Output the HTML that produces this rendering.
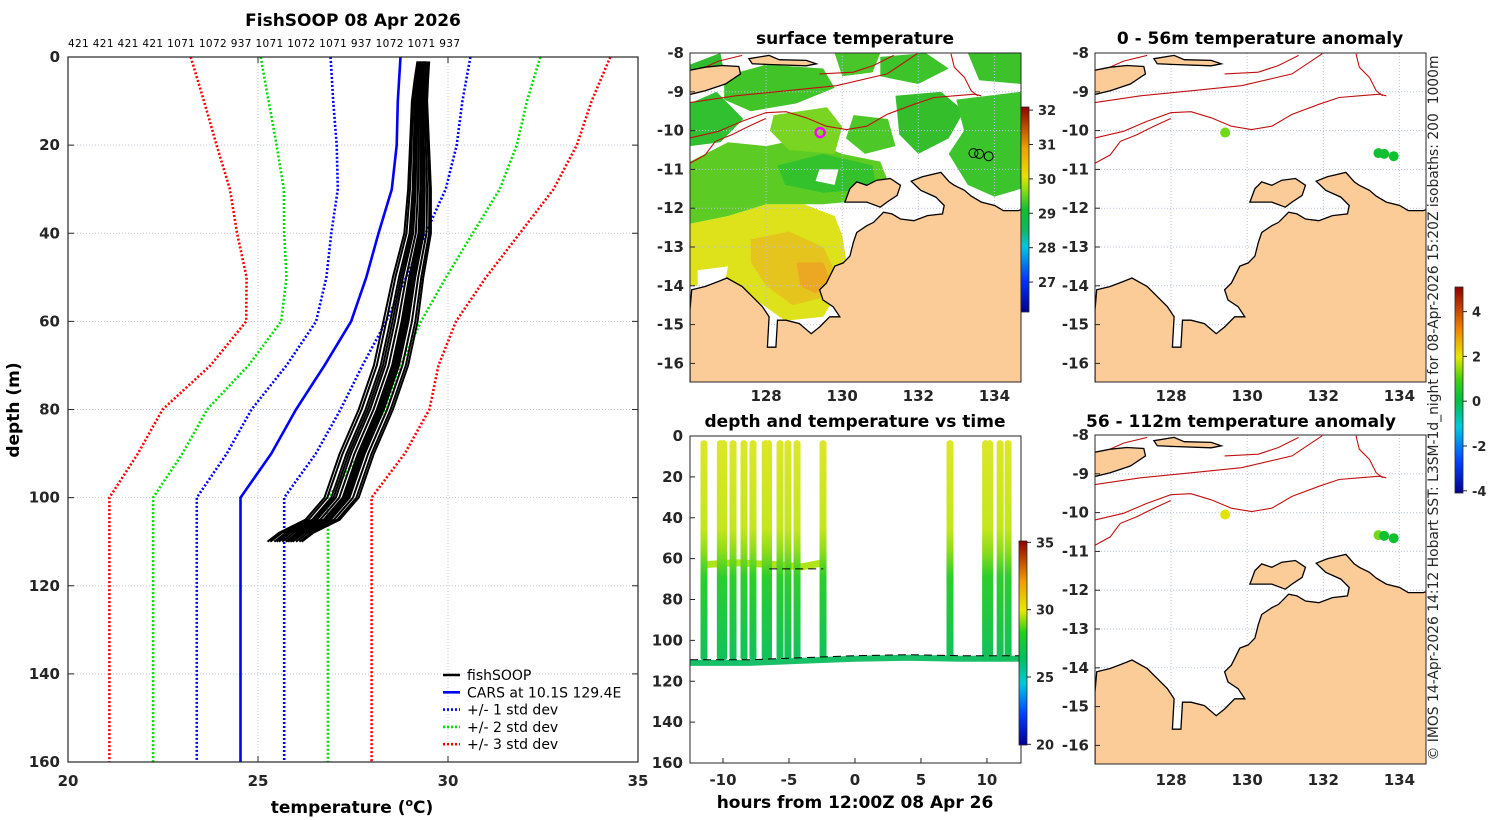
<!DOCTYPE html>
<html><head><meta charset="utf-8">
<style>
html,body{margin:0;padding:0;background:#fff;}
svg{display:block;font-family:"DejaVu Sans","Liberation Sans",sans-serif;}
.tk{font-size:15px;font-weight:bold;fill:#262626;}
.tt{font-size:17px;font-weight:bold;fill:#000;}
</style></head>
<body>
<svg id="fig" width="1500" height="820" viewBox="0 0 1500 820" xmlns="http://www.w3.org/2000/svg">
<defs>
<clipPath id="cp0"><rect x="68" y="57" width="570" height="705"/></clipPath>
<clipPath id="cp1"><rect x="690" y="53" width="331" height="329"/></clipPath>
<clipPath id="cp2"><rect x="1095" y="53" width="331" height="329"/></clipPath>
<clipPath id="cp3"><rect x="1095" y="435" width="331" height="329"/></clipPath>
<clipPath id="cp4"><rect x="690" y="436" width="331" height="327"/></clipPath>
<linearGradient id="gSst" x1="0" y1="1" x2="0" y2="0">
<stop offset="0" stop-color="#00008f"/><stop offset="0.15" stop-color="#0030ff"/><stop offset="0.32" stop-color="#00c8e0"/><stop offset="0.4" stop-color="#10b860"/><stop offset="0.5" stop-color="#10c030"/><stop offset="0.6" stop-color="#90e010"/><stop offset="0.66" stop-color="#e8e000"/><stop offset="0.8" stop-color="#f0a000"/><stop offset="1" stop-color="#900000"/>
</linearGradient>
<linearGradient id="gTs" x1="0" y1="1" x2="0" y2="0">
<stop offset="0" stop-color="#00008f"/><stop offset="0.15" stop-color="#0040ff"/><stop offset="0.3" stop-color="#00c8e0"/><stop offset="0.42" stop-color="#00c060"/><stop offset="0.55" stop-color="#20d020"/><stop offset="0.66" stop-color="#e8e800"/><stop offset="0.8" stop-color="#f0a000"/><stop offset="1" stop-color="#900000"/>
</linearGradient>
<linearGradient id="gAn" x1="0" y1="1" x2="0" y2="0">
<stop offset="0" stop-color="#00008f"/><stop offset="0.15" stop-color="#0040ff"/><stop offset="0.32" stop-color="#00c8e0"/><stop offset="0.45" stop-color="#00c040"/><stop offset="0.55" stop-color="#40d010"/><stop offset="0.66" stop-color="#e8e800"/><stop offset="0.8" stop-color="#f08000"/><stop offset="1" stop-color="#900000"/>
</linearGradient>
<linearGradient id="gCast" x1="0" y1="0" x2="0" y2="1">
<stop offset="0" stop-color="#dde62a"/><stop offset="0.4" stop-color="#c4e620"/><stop offset="0.5" stop-color="#90dc1c"/><stop offset="0.62" stop-color="#2cce2c"/><stop offset="1" stop-color="#12c05c"/>
</linearGradient>
</defs>
</svg>
<script>
// ---------- data ----------
const carsDepth=[0,10,20,30,40,50,60,70,80,90,100,160];
const carsMean=[28.75,28.68,28.65,28.52,28.17,27.85,27.45,26.75,26.0,25.35,24.54,24.54];
const carsStd=[1.84,1.7,1.58,1.42,1.24,1.05,0.92,1.0,1.17,1.17,1.15,1.15];
const obsDepth=[1,5,10,20,30,40,50,60,70,80,90,100,105,108,110];
const obsTemp=[29.35,29.3,29.25,29.25,29.25,29.2,28.95,28.75,28.5,28.1,27.6,27.2,26.7,26.0,25.7];
const castOffset=[-0.25,-0.18,-0.1,-0.04,0.02,0.08,0.14,0.2,0.26,-0.3,0.3,-0.14,0.05,0.11];
const castIds=["421","421","421","421","1071","1072","937","1071","1072","1071","937","1072","1071","937"];
const depthTicks=[0,20,40,60,80,100,120,140,160];
const tempTicks=[20,25,30,35];
const castHours=[-11.44,-10.2,-9.95,-9.24,-8.41,-7.73,-6.8,-6.55,-5.68,-5.08,-4.39,-2.42,7.2,9.9,10.2,11.0,11.6];
const castMaxDepth=[110,110,110,110,110,110,110,110,110,110,110,110,110,110,110,110,110];
const bandHours=[-11.6,-9,-6,-4,-2.4];
const bandDepth=[63,62,63,64,62];
const trackHours=[-12.5,-8,-4,0,4,8,12.6];
const trackDepth=[111,111,110,109,108.5,109,109];
const hourTicks=[-10,-5,0,5,10];
const lonTicks=[128,130,132,134];
const latTicks=[-8,-9,-10,-11,-12,-13,-14,-15,-16];
const sstTicks=[27,28,29,30,31,32];
const tsTicks=[20,25,30,35];
const anTicks=[-4,-2,0,2,4];
const fishLon=[129.42,133.45,133.6,133.85];
const fishLat=[-10.05,-10.58,-10.6,-10.66];
const anom0=[1.0,0.4,0.3,0.2];
const anom1=[2.2,0.5,0.4,0.3];

const S=document.getElementById('fig');
const NS='http://www.w3.org/2000/svg';
function mk(tag,attrs,parent){const e=document.createElementNS(NS,tag);for(const k in attrs)e.setAttribute(k,attrs[k]);(parent||S).appendChild(e);return e;}
function txt(x,y,s,cls,anchor,parent,extra){const t=mk('text',Object.assign({x:x,y:y,'text-anchor':anchor||'middle'},extra||{}),parent);if(cls)t.setAttribute('class',cls);t.textContent=s;return t;}

// ---------- profile panel ----------
const P={x:68,y:57,w:570,h:705};
const tx=t=>P.x+(t-20)/15*P.w;
const dy=d=>P.y+d/160*P.h;
const gP=mk('g',{});


depthTicks.forEach(d=>{if(d>0&&d<160){const l=mk('line',{x1:P.x,x2:P.x+P.w,y1:dy(d),y2:dy(d),stroke:'#c0c4dc','stroke-width':1,'stroke-dasharray':'1,2'},gP);}});
tempTicks.forEach(t=>{if(t>20&&t<35){const l=mk('line',{x1:tx(t),x2:tx(t),y1:P.y,y2:P.y+P.h,stroke:'#c0c4dc','stroke-width':1,'stroke-dasharray':'1,2'},gP);}});
const gPc=mk('g',{'clip-path':'url(#cp0)'},gP);
const stdCols=['#0000ff','#00dd00','#ff0000'];
[3,2,1].forEach(k=>{
  [-1,1].forEach(s=>{
    const pts=carsDepth.map((d,i)=>tx(carsMean[i]+s*k*carsStd[i]).toFixed(1)+','+dy(d).toFixed(1)).join(' ');
    const l=mk('polyline',{points:pts,fill:'none',stroke:stdCols[k-1],'stroke-width':2.6,'stroke-dasharray':'2,2'},gPc);
    
    
  });
});
{const pts=carsDepth.map((d,i)=>tx(carsMean[i]).toFixed(1)+','+dy(d).toFixed(1)).join(' ');
const l=mk('polyline',{points:pts,fill:'none',stroke:'#0000ff','stroke-width':2.6},gPc);

}
castOffset.forEach((o,c)=>{
  const pts=obsDepth.map((d,i)=>{const f=Math.min(1,d/60);return tx(obsTemp[i]+o*(0.5+f)).toFixed(1)+','+dy(d).toFixed(1);}).join(' ');
  const l=mk('polyline',{points:pts,fill:'none',stroke:'#000','stroke-width':2,'stroke-linejoin':'round'},gPc);
  
  
});
{const r=mk('rect',{x:P.x,y:P.y,width:P.w,height:P.h,fill:'none',stroke:'#262626','stroke-width':1.2},gP);}
depthTicks.forEach(d=>{mk('line',{x1:P.x,x2:P.x+6,y1:dy(d),y2:dy(d),stroke:'#262626'},gP);mk('line',{x1:P.x+P.w-6,x2:P.x+P.w,y1:dy(d),y2:dy(d),stroke:'#262626'},gP);
  const t=txt(P.x-8,dy(d)+5,String(d),'tk','end',gP);});
tempTicks.forEach(v=>{mk('line',{x1:tx(v),x2:tx(v),y1:P.y,y2:P.y+6,stroke:'#262626'},gP);mk('line',{x1:tx(v),x2:tx(v),y1:P.y+P.h-6,y2:P.y+P.h,stroke:'#262626'},gP);
  const t=txt(tx(v),P.y+P.h+24,String(v),'tk','middle',gP);});
{const t=txt(353,26,'FishSOOP 08 Apr 2026','tt','middle',gP);}
{const t=txt(68,47,castIds.join(' '),null,'start',gP,{'font-size':'10.5px',fill:'#000',textLength:392});}
{const t=mk('text',{x:352,y:813,'text-anchor':'middle',class:'tt',fill:'#262626'},gP);t.innerHTML='temperature (<tspan dy="-7" font-size="11">o</tspan><tspan dy="7">C)</tspan>';}
{const t=txt(19,410,'depth (m)','tt','middle',gP,{transform:'rotate(-90 19 410)'});}
// legend
const legItems=[['fishSOOP','#000',''],['CARS at 10.1S 129.4E','#0000ff',''],['+/- 1 std dev','#0000ff','2,2'],['+/- 2 std dev','#00dd00','2,2'],['+/- 3 std dev','#ff0000','2,2']];
const gL=mk('g',{},gP);


legItems.forEach((it,i)=>{const y=675+i*17.3;
  const l=mk('line',{x1:443,x2:460,y1:y,y2:y,stroke:it[1],'stroke-width':2.6,'stroke-dasharray':it[2]||'none'},gL);
  
  const t=txt(467,y+5,it[0],null,'start',gL,{'font-size':'14px',fill:'#000'});});

// ---------- maps ----------
const coast=[[15,800],[20,740],[60,730],[100,715],[125,705],[170,730],[200,760],[230,790],[250,820],[245,910],[270,910],[275,830],[300,830],[340,840],[375,870],[400,850],[430,820],[460,820],[440,790],[410,770],[400,740],[420,720],[445,670],[470,660],[490,640],[500,600],[510,570],[540,550],[560,540],[580,520],[590,510],[615,515],[640,530],[680,535],[720,520],[765,515],[770,490],[745,465],[700,445],[672,418],[705,405],[760,392],[785,420],[800,430],[830,445],[850,462],[880,480],[920,490],[945,505],[990,505],[1005,500],[1005,1030],[15,1030]];
const island=[[475,480],[490,440],[510,420],[540,430],[570,415],[610,410],[640,430],[630,460],[600,480],[580,495],[540,480],[500,480]];
const timor=[[10,90],[60,80],[110,75],[160,78],[165,100],[120,130],[60,150],[10,162]];
const islet=[[190,55],[250,45],[280,58],[360,60],[390,70],[360,76],[250,72],[200,70]];
const iso=[
 [[15,290],[100,270],[170,240],[240,215],[300,212],[360,230],[420,255],[480,265],[540,255],[600,220],[680,190],[740,170],[800,165],[860,160],[880,165]],
 [[15,365],[60,340],[90,300],[140,280],[190,255],[240,232]],
 [[15,185],[150,165],[300,150],[450,135],[600,100],[690,40]],
 [[15,100],[100,62],[170,45]],
 [[790,40],[800,80],[830,110],[850,150],[870,165]],
 [[400,100],[500,95],[560,75],[620,45]]];
const zl=p=>[126+(p[0]-15)/113,-8-(p[1]-38)/115];
function mapFns(b){return {X:lon=>b.x+(lon-126)*38.05,Y:lat=>b.y+(-8-lat)*38.8};}
function poly(arr,f){return arr.map(p=>{const q=zl(p);return f.X(q[0]).toFixed(1)+','+f.Y(q[1]).toFixed(1);}).join(' ');}
const sstPatches=[
 {c:'#dde21a',p:[[126,-12.4],[127,-12.2],[128,-11.9],[129,-11.9],[129.8,-12.2],[130.0,-12.7],[130.1,-13.3],[129.8,-14.3],[129.5,-14.8],[128.5,-14.9],[127.5,-14.2],[126.5,-14.0],[126,-14.0]]},
 {c:'#e6c41e',p:[[127.6,-12.8],[128.6,-12.6],[129.5,-13.0],[129.8,-13.6],[129.5,-14.3],[128.7,-14.5],[128.0,-14.0],[127.6,-13.4]]},
 {c:'#eca822',p:[[128.8,-13.4],[129.5,-13.4],[129.7,-13.9],[129.3,-14.2],[128.9,-14.0]]},
 {c:'#5ccc24',p:[[126,-10.8],[127,-10.3],[128,-10.4],[129,-10.2],[130,-10.6],[131,-10.8],[131.2,-11.3],[130.6,-11.8],[129.5,-11.9],[128,-11.9],[127,-12.2],[126,-12.4]]},
 {c:'#34c22c',p:[[128.3,-10.9],[129.5,-10.6],[130.8,-10.9],[130.9,-11.5],[129.5,-11.6],[128.5,-11.4]]},
 {c:'#7ad422',p:[[128.2,-9.6],[129.6,-9.4],[130.0,-9.9],[129.8,-10.6],[128.6,-10.5],[128.1,-10.0]]},
 {c:'#40c428',p:[[126.9,-8.6],[128.0,-8.3],[129.5,-8.4],[129.8,-8.9],[128.8,-9.3],[127.6,-9.5],[126.9,-9.2]]},
 {c:'#30c030',p:[[126,-9.3],[126.7,-9.0],[127.4,-9.7],[126.8,-10.3],[126,-10.4]]},
 {c:'#3cc42a',p:[[131.0,-8.1],[132.2,-8.0],[132.8,-8.4],[132.0,-8.8],[131.0,-8.6]]},
 {c:'#34be2c',p:[[131.4,-9.1],[132.6,-9.0],[133.2,-9.5],[132.8,-10.2],[132.0,-10.6],[131.5,-10.1]]},
 {c:'#3cc42c',p:[[133.0,-9.2],[134.7,-9.0],[134.7,-11.5],[134.0,-11.7],[133.3,-11.4],[132.8,-10.6],[133.2,-10.0]]},
 {c:'#4cc828',p:[[130.3,-9.6],[131.2,-9.7],[131.4,-10.4],[130.6,-10.6],[130.1,-10.2]]},
 {c:'#30bc2e',p:[[126,-8.3],[126.8,-8.0],[126.9,-8.5],[126,-8.9]]},
 {c:'#48c62a',p:[[129.8,-8.0],[131.0,-8.0],[130.8,-8.5],[130.0,-8.6]]},
 {c:'#3ec22c',p:[[133.3,-8.0],[134.7,-8.0],[134.7,-8.8],[133.6,-8.7]]}];
const whiteHoles=[[[127.4,-9.8],[128.0,-9.7],[128.1,-10.2],[127.5,-10.3]],[[132.2,-11.0],[132.9,-11.1],[132.6,-11.6],[132.0,-11.5]],[[126.2,-13.6],[127.0,-13.5],[126.9,-14.0],[126.2,-14.1]],[[129.4,-11.0],[129.9,-11.0],[129.8,-11.4],[129.3,-11.3]]];

const maps=[
 {b:{x:690,y:53,w:331,h:329},clip:'cp1',name:'surface-temperature-map',title:'surface temperature',tx:855,ty:44,sst:true,xl:401},
 {b:{x:1095,y:53,w:331,h:329},clip:'cp2',name:'anomaly-0-56m-map',title:'0 - 56m temperature anomaly',tx:1260,ty:44,anom:anom0,xl:401},
 {b:{x:1095,y:435,w:331,h:329},clip:'cp3',name:'anomaly-56-112m-map',title:'56 - 112m temperature anomaly',tx:1241,ty:427,anom:anom1,xl:785}];
function anomColor(v){const st=[[-4,'#0040ff'],[0,'#10c030'],[1,'#70d818'],[2,'#e0e400'],[3.5,'#f08000'],[5,'#900000']];
 for(let i=0;i<st.length-1;i++)if(v<=st[i+1][0])return v<st[0][0]?st[0][1]:(v-st[i][0]<(st[i+1][0]-v)?st[i][1]:st[i+1][1]);return st[st.length-1][1];}
maps.forEach(m=>{
 const f=mapFns(m.b);const b=m.b;
 const g=mk('g',{});
 
 
 const gc=mk('g',{'clip-path':'url(#'+m.clip+')'},g);
 mk('rect',{x:b.x,y:b.y,width:b.w,height:b.h,fill:'#fff'},gc);
 if(m.sst){
  sstPatches.forEach(s=>{const e=mk('polygon',{points:s.p.map(q=>f.X(q[0]).toFixed(1)+','+f.Y(q[1]).toFixed(1)).join(' '),fill:s.c},gc);});
  whiteHoles.forEach(s=>{mk('polygon',{points:s.map(q=>f.X(q[0]).toFixed(1)+','+f.Y(q[1]).toFixed(1)).join(' '),fill:'#fff'},gc);});
 }
 lonTicks.forEach(l=>mk('line',{x1:f.X(l),x2:f.X(l),y1:b.y,y2:b.y+b.h,stroke:'#b8c0e8','stroke-width':1,'stroke-dasharray':'1,2'},gc));
 latTicks.forEach(l=>mk('line',{x1:b.x,x2:b.x+b.w,y1:f.Y(l),y2:f.Y(l),stroke:'#b8c0e8','stroke-width':1,'stroke-dasharray':'1,2'},gc));
 iso.forEach(line=>{const e=mk('polyline',{points:poly(line,f),fill:'none',stroke:'#c01010','stroke-width':1.1},gc);});
 [coast,island,timor,islet].forEach((pp,i)=>{const e=mk('polygon',{points:poly(pp,f),fill:'#fbcb98',stroke:'#000','stroke-width':1.3},gc);});
 if(m.sst){
  fishLon.forEach((lo,i)=>{const e=mk('circle',{cx:f.X(lo),cy:f.Y(fishLat[i]),r:4.5,fill:'none',stroke:i==0?'#ff00ff':'#000','stroke-width':i==0?2.4:1},gc);});
 } else {
  fishLon.forEach((lo,i)=>{const e=mk('circle',{cx:f.X(lo),cy:f.Y(fishLat[i]),r:5,fill:anomColor(m.anom[i])},gc);});
 }
 mk('rect',{x:b.x,y:b.y,width:b.w,height:b.h,fill:'none',stroke:'#262626','stroke-width':1},g);
 latTicks.forEach(l=>{const t=txt(b.x-6,f.Y(l)+5,String(l),'tk','end',g);
   mk('line',{x1:b.x,x2:b.x+5,y1:f.Y(l),y2:f.Y(l),stroke:'#262626'},g);});
 lonTicks.forEach(l=>{const t=txt(f.X(l),m.xl,String(l),'tk','middle',g);});
 const t=txt(m.tx,m.ty,m.title,'tt','middle',g);
});

// ---------- time series ----------
const T={x:690,y:436,w:331,h:327};
const hx=h=>T.x+(h+12.5)/25.08*T.w;
const ty=d=>T.y+d/160*T.h;
const gT=mk('g',{});


const gTc=mk('g',{'clip-path':'url(#cp4)'},gT);
{const e=mk('polyline',{points:trackHours.map((h,i)=>hx(h).toFixed(1)+','+ty(trackDepth[i]).toFixed(1)).join(' '),fill:'none',stroke:'#18c068','stroke-width':6},gTc);}
{const e=mk('polyline',{points:bandHours.map((h,i)=>hx(h).toFixed(1)+','+ty(bandDepth[i]).toFixed(1)).join(' '),fill:'none',stroke:'#b0e41a','stroke-width':7},gTc);}
castHours.forEach((h,i)=>{const x=hx(h);
 const e=mk('rect',{x:x-3.5,y:ty(2),width:7,height:ty(castMaxDepth[i])-ty(2),rx:3.5,fill:'url(#gCast)'},gTc);
 
 });
{const e=mk('polyline',{points:trackHours.map((h,i)=>hx(h).toFixed(1)+','+ty(trackDepth[i]-1.5).toFixed(1)).join(' '),fill:'none',stroke:'#000','stroke-width':1,'stroke-dasharray':'8,5'},gTc);}
{const e=mk('line',{x1:hx(-6.5),x2:hx(-2.4),y1:ty(65),y2:ty(65),stroke:'#000','stroke-width':1,'stroke-dasharray':'8,5'},gTc);}
mk('rect',{x:T.x,y:T.y,width:T.w,height:T.h,fill:'none',stroke:'#262626','stroke-width':1},gT);
depthTicks.forEach(d=>{mk('line',{x1:T.x,x2:T.x+5,y1:ty(d),y2:ty(d),stroke:'#262626'},gT);const t=txt(T.x-7,ty(d)+5,String(d),'tk','end',gT);});
hourTicks.forEach(h=>{mk('line',{x1:hx(h),x2:hx(h),y1:T.y+T.h-5,y2:T.y+T.h,stroke:'#262626'},gT);const t=txt(hx(h),T.y+T.h+22,String(h),'tk','middle',gT);});
{const t=txt(855,427,'depth and temperature vs time','tt','middle',gT);}
{const t=txt(855,808,'hours from 12:00Z 08 Apr 26','tt','middle',gT);}

// ---------- colorbars ----------
function colorbar(name,x,y0,y1,w,lo,hi,ticks,grad){
 const g=mk('g',{});
 
 
 mk('rect',{x:x,y:y0,width:w,height:y1-y0,fill:'url(#'+grad+')',stroke:'#262626','stroke-width':0.8},g);
 ticks.forEach(v=>{const y=y1-(v-lo)/(hi-lo)*(y1-y0);mk('line',{x1:x+w,x2:x+w+4,y1:y,y2:y,stroke:'#262626'},g);
  const t=txt(x+w+9,y+5,String(v),null,'start',g,{'font-size':'13px','font-weight':'bold',fill:'#262626'});});
}
colorbar('sst-colorbar',1021,107,312,8,26.13,32.09,sstTicks,'gSst');
colorbar('ts-colorbar',1019,541,745,8,19.95,35.1,tsTicks,'gTs');
colorbar('anomaly-colorbar',1455,287,493,8,-4.1,5.1,anTicks,'gAn');

// ---------- credit ----------
{const t=txt(1438,408,'© IMOS 14-Apr-2026 14:12 Hobart SST: L3SM-1d_night for 08-Apr-2026 15:20Z isobaths: 200\u00a0\u00a01000m',null,'middle',S,{transform:'rotate(-90 1438 408)','font-size':'14px',fill:'#262626',textLength:705,lengthAdjust:'spacingAndGlyphs'});
}
</script>
</body></html>
